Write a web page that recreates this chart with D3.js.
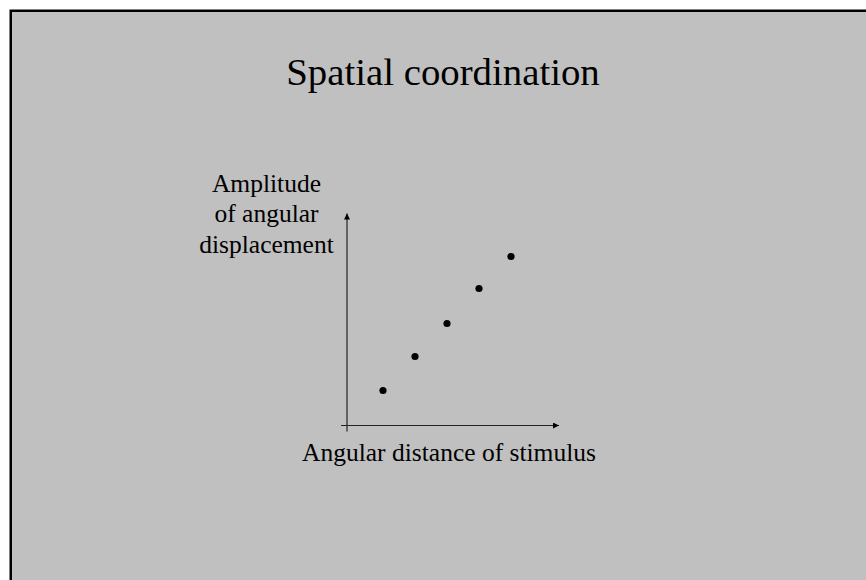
<!DOCTYPE html>
<html>
<head>
<meta charset="utf-8">
<script src="https://cdn.jsdelivr.net/npm/d3@7.9.0/dist/d3.min.js"></script>
<style>
  html, body { margin: 0; padding: 0; background: #fff; }
  svg { display: block; }
  text { font-family: "Liberation Serif", "Times New Roman", serif; fill: #000; }
</style>
</head>
<body>
<svg id="slide" width="866" height="580"></svg>
<script>
// chart data (arbitrary units)
const stimulus = [36, 68, 100, 132, 164];
const amplitude = [35, 69, 102, 137, 169];
const title = "Spatial coordination";
const xLabel = "Angular distance of stimulus";
const yLabel = ["Amplitude", "of angular", "displacement"];

const svg = d3.select("#slide");

// slide background with its frame (runs past the window on right and bottom)
svg.append("rect")
  .attr("x", 10.75).attr("y", 10.75)
  .attr("width", 900).attr("height", 620)
  .attr("fill", "#c0c0c0")
  .attr("stroke", "#000")
  .attr("stroke-width", 2.5);

svg.append("text")
  .attr("x", 443).attr("y", 85)
  .attr("text-anchor", "middle")
  .attr("font-size", 38.8)
  .text(title);

// origin of the plot and its scales
const x0 = 347, y0 = 425.5;
let x = d3.scaleLinear().domain([0, 212]).range([x0, x0 + 212]);
let y = d3.scaleLinear().domain([0, 212]).range([y0, y0 - 212]);

const defs = svg.append("defs");
defs.append("marker")
  .attr("id", "arrow")
  .attr("viewBox", "0 0 10 10")
  .attr("refX", 10).attr("refY", 5)
  .attr("markerWidth", 7).attr("markerHeight", 6)
  .attr("markerUnits", "userSpaceOnUse")
  .attr("orient", "auto")
  .append("path")
  .attr("d", "M0,0 L10,5 L0,10 Z")
  .attr("fill", "#000");

// axes: plain lines with arrow heads, a little overhang past the origin
svg.append("line")
  .attr("x1", x(0)).attr("y1", y(0) + 6)
  .attr("x2", x(0)).attr("y2", y(212))
  .attr("stroke", "#222").attr("stroke-width", 1.2)
  .attr("marker-end", "url(#arrow)");

svg.append("line")
  .attr("x1", x(0) - 6).attr("y1", y(0))
  .attr("x2", x(212)).attr("y2", y(0))
  .attr("stroke", "#222").attr("stroke-width", 1.2)
  .attr("marker-end", "url(#arrow)");

// the points
svg.selectAll("circle.pt")
  .data(stimulus)
  .join("circle")
  .attr("class", "pt")
  .attr("cx", (d) => x(d))
  .attr("cy", (d, i) => y(amplitude[i]))
  .attr("r", 3.6)
  .attr("fill", "#000");

svg.append("text")
  .attr("x", 449).attr("y", 461)
  .attr("text-anchor", "middle")
  .attr("font-size", 25.5)
  .text(xLabel);

svg.selectAll("text.ylab")
  .data(yLabel)
  .join("text")
  .attr("class", "ylab")
  .attr("x", 266.5)
  .attr("y", (d, i) => 191.5 + i * 30.5)
  .attr("text-anchor", "middle")
  .attr("font-size", 25.5)
  .text((d) => d);
</script>
</body>
</html>
